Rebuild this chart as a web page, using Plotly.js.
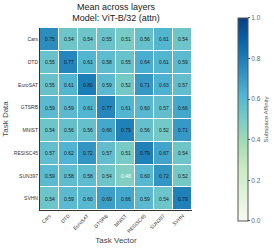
<!DOCTYPE html>
<html><head><meta charset="utf-8">
<script src="https://cdn.plot.ly/plotly-3.0.1.min.js"></script>
<style>html,body{margin:0;padding:0;background:#fff}#c{width:274px;height:250px}</style>
</head><body><div id="c"></div>
<script>
const taskVectors = ["Cars","DTD","EuroSAT","GTSRB","MNIST","RESISC45","SUN397","SVHN"];
const taskData = ["Cars","DTD","EuroSAT","GTSRB","MNIST","RESISC45","SUN397","SVHN"];
const affinity = [
  [0.75,0.54,0.54,0.55,0.51,0.56,0.61,0.54],
  [0.55,0.77,0.61,0.58,0.55,0.64,0.61,0.59],
  [0.55,0.61,0.80,0.59,0.52,0.71,0.63,0.57],
  [0.59,0.59,0.61,0.77,0.61,0.60,0.57,0.66],
  [0.54,0.56,0.56,0.66,0.79,0.56,0.52,0.71],
  [0.57,0.62,0.72,0.57,0.51,0.79,0.67,0.54],
  [0.59,0.58,0.58,0.54,0.48,0.60,0.72,0.52],
  [0.54,0.59,0.60,0.69,0.66,0.59,0.54,0.79]
];
const gnbu = ["#f7fcf0","#e0f3db","#ccebc5","#a8ddb5","#7bccc4","#4eb3d3","#2b8cbe","#0868ac","#084081"];
const colorscale = gnbu.map((c,i)=>[i/(gnbu.length-1),c]);
const annotations = [];
affinity.forEach((row,i)=>row.forEach((v,j)=>{
  annotations.push({x:taskVectors[j],y:taskData[i],text:v.toFixed(2),showarrow:false,
    font:{size:5,color:v<0.5?'#ffffff':'#1a1a1a',family:'Liberation Sans, Arial, sans-serif'}});
}));
const data = [{type:'heatmap',x:taskVectors,y:taskData,z:affinity,zmin:0,zmax:1,
  colorscale:colorscale,xgap:1,ygap:1,hoverongaps:false,
  colorbar:{x:1.303,xanchor:'left',xpad:0,ypad:0,y:1.055,yanchor:'top',lenmode:'pixels',len:203,
    thickness:10,outlinewidth:1,outlinecolor:'#555',ticks:'outside',ticklen:2,tickcolor:'#555',
    tickvals:[0,0.2,0.4,0.6,0.8,1.0],ticktext:['0.0','0.2','0.4','0.6','0.8','1.0'],
    tickfont:{size:6.5,color:'#666'},
    title:{text:'Subspace Affinity',side:'right',font:{size:6,color:'#555'}}}}];
const layout = {width:274,height:250,margin:{l:40,r:82,t:28,b:40,autoexpand:false},
  paper_bgcolor:'#fff',plot_bgcolor:'#fff',
  font:{family:'Liberation Sans, Arial, sans-serif',color:'#333'},
  title:{text:'Mean across layers<br>Model: ViT-B/32 (attn)',x:0.5,xref:'paper',xanchor:'center',
    y:0.962,yanchor:'top',font:{size:9,color:'#222'}},
  xaxis:{tickangle:-45,tickfont:{size:5,color:'#333'},showline:true,linecolor:'#333',linewidth:1,
    ticks:'',showgrid:false,zeroline:false,automargin:false,
    title:{text:'Task Vector',font:{size:8,color:'#444'},standoff:4}},
  yaxis:{autorange:'reversed',tickfont:{size:5,color:'#333'},showline:true,linecolor:'#333',linewidth:1,
    ticks:'',showgrid:false,zeroline:false,automargin:false,
    title:{text:'Task Data',font:{size:8,color:'#444'},standoff:4}},
  annotations:annotations};
Plotly.newPlot('c',data,layout,{displayModeBar:false,staticPlot:true});
</script></body></html>
